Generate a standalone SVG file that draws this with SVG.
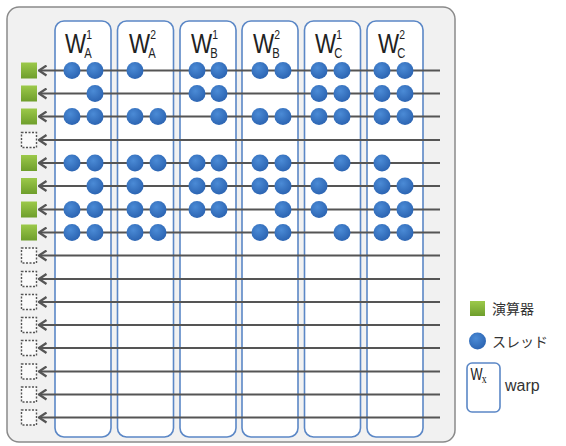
<svg xmlns="http://www.w3.org/2000/svg" width="566" height="446" viewBox="0 0 566 446">
<defs>
<linearGradient id="gGreen" x1="0" y1="0" x2="0" y2="1">
<stop offset="0" stop-color="#9cc94a"/>
<stop offset="1" stop-color="#6e9e2c"/>
</linearGradient>
<radialGradient id="gBlue" cx="0.4" cy="0.35" r="0.7">
<stop offset="0" stop-color="#4b8bd6"/>
<stop offset="1" stop-color="#2a62b0"/>
</radialGradient>
<marker id="arr" viewBox="0 0 10 12" refX="9" refY="6" markerWidth="10" markerHeight="12" markerUnits="userSpaceOnUse" orient="auto">
<path d="M1.5,1 L9,6 L1.5,11" fill="none" stroke="#555" stroke-width="2.2" stroke-linejoin="miter"/>
</marker>
</defs>
<style>
.panel{fill:#f1f1f1;stroke:#8a8a8a;stroke-width:1.5}
.warp{fill:#ffffff;stroke:#5b87c6;stroke-width:1.6}
.wire{stroke:#555555;stroke-width:2;fill:none}
.alu{fill:url(#gGreen)}
.idle{fill:#fafafa;stroke:#555;stroke-width:1.4;stroke-dasharray:2 1.5}
.th{fill:url(#gBlue)}
.W{font-family:"Liberation Sans",Arial,sans-serif;font-size:28px;fill:#222}
.sup{font-size:13px}
.sub{font-size:14px}
.lg{font-family:"Liberation Sans","Noto Sans CJK JP",sans-serif;font-size:14px;fill:#333}
</style>
<rect class="panel" x="7" y="7" width="448" height="435" rx="12"/>

<g id="warps">
<g id="warp-A1"><rect class="warp" x="55" y="21" width="56" height="416" rx="9"/>
<text class="W" transform="translate(65,52.5) scale(0.8,1)">W<tspan class="sup" dx="0" dy="-13.5">1</tspan><tspan class="sub" dx="-9.5" dy="19">A</tspan></text></g>
<g id="warp-A2"><rect class="warp" x="117.5" y="21" width="56" height="416" rx="9"/>
<text class="W" transform="translate(129,52.5) scale(0.8,1)">W<tspan class="sup" dx="0" dy="-13.5">2</tspan><tspan class="sub" dx="-9.5" dy="19">A</tspan></text></g>
<g id="warp-B1"><rect class="warp" x="180" y="21" width="56" height="416" rx="9"/>
<text class="W" transform="translate(191,52.5) scale(0.8,1)">W<tspan class="sup" dx="0" dy="-13.5">1</tspan><tspan class="sub" dx="-9.5" dy="19">B</tspan></text></g>
<g id="warp-B2"><rect class="warp" x="242" y="21" width="56" height="416" rx="9"/>
<text class="W" transform="translate(253,52.5) scale(0.8,1)">W<tspan class="sup" dx="0" dy="-13.5">2</tspan><tspan class="sub" dx="-9.5" dy="19">B</tspan></text></g>
<g id="warp-C1"><rect class="warp" x="304.5" y="21" width="56" height="416" rx="9"/>
<text class="W" transform="translate(315,52.5) scale(0.8,1)">W<tspan class="sup" dx="0" dy="-13.5">1</tspan><tspan class="sub" dx="-9.5" dy="19">C</tspan></text></g>
<g id="warp-C2"><rect class="warp" x="367" y="21" width="56" height="416" rx="9"/>
<text class="W" transform="translate(378,52.5) scale(0.8,1)">W<tspan class="sup" dx="0" dy="-13.5">2</tspan><tspan class="sub" dx="-9.5" dy="19">C</tspan></text></g>
</g>

<g id="connectors" class="wire" marker-end="url(#arr)">
<line x1="440" y1="70.5" x2="39" y2="70.5"/>
<line x1="440" y1="93.5" x2="39" y2="93.5"/>
<line x1="440" y1="116.5" x2="39" y2="116.5"/>
<line x1="440" y1="140" x2="39" y2="140"/>
<line x1="440" y1="163" x2="39" y2="163"/>
<line x1="440" y1="186" x2="39" y2="186"/>
<line x1="440" y1="209.5" x2="39" y2="209.5"/>
<line x1="440" y1="232.5" x2="39" y2="232.5"/>
<line x1="440" y1="255.5" x2="39" y2="255.5"/>
<line x1="440" y1="279" x2="39" y2="279"/>
<line x1="440" y1="302" x2="39" y2="302"/>
<line x1="440" y1="325" x2="39" y2="325"/>
<line x1="440" y1="348" x2="39" y2="348"/>
<line x1="440" y1="371.5" x2="39" y2="371.5"/>
<line x1="440" y1="394.5" x2="39" y2="394.5"/>
<line x1="440" y1="417.5" x2="39" y2="417.5"/>
</g>

<g id="units">
<rect id="alu1" class="alu" x="21" y="62.5" width="16" height="16"/>
<rect id="alu2" class="alu" x="21" y="85.5" width="16" height="16"/>
<rect id="alu3" class="alu" x="21" y="108.5" width="16" height="16"/>
<rect id="alu4" class="idle" x="21.5" y="132.5" width="15" height="15"/>
<rect id="alu5" class="alu" x="21" y="155" width="16" height="16"/>
<rect id="alu6" class="alu" x="21" y="178" width="16" height="16"/>
<rect id="alu7" class="alu" x="21" y="201.5" width="16" height="16"/>
<rect id="alu8" class="alu" x="21" y="224.5" width="16" height="16"/>
<rect id="alu9" class="idle" x="21.5" y="248" width="15" height="15"/>
<rect id="alu10" class="idle" x="21.5" y="271.5" width="15" height="15"/>
<rect id="alu11" class="idle" x="21.5" y="294.5" width="15" height="15"/>
<rect id="alu12" class="idle" x="21.5" y="317.5" width="15" height="15"/>
<rect id="alu13" class="idle" x="21.5" y="340.5" width="15" height="15"/>
<rect id="alu14" class="idle" x="21.5" y="364" width="15" height="15"/>
<rect id="alu15" class="idle" x="21.5" y="387" width="15" height="15"/>
<rect id="alu16" class="idle" x="21.5" y="410" width="15" height="15"/>
</g>

<g id="threads" class="th">
<circle cx="72" cy="70.5" r="8.5"/><circle cx="95" cy="70.5" r="8.5"/>
<circle cx="135" cy="70.5" r="8.5"/>
<circle cx="197" cy="70.5" r="8.5"/><circle cx="219" cy="70.5" r="8.5"/>
<circle cx="260" cy="70.5" r="8.5"/><circle cx="283" cy="70.5" r="8.5"/>
<circle cx="319" cy="70.5" r="8.5"/><circle cx="342" cy="70.5" r="8.5"/>
<circle cx="382" cy="70.5" r="8.5"/><circle cx="405" cy="70.5" r="8.5"/>
<circle cx="95" cy="93.5" r="8.5"/>
<circle cx="197" cy="93.5" r="8.5"/><circle cx="219" cy="93.5" r="8.5"/>
<circle cx="319" cy="93.5" r="8.5"/><circle cx="342" cy="93.5" r="8.5"/>
<circle cx="382" cy="93.5" r="8.5"/><circle cx="405" cy="93.5" r="8.5"/>
<circle cx="72" cy="116.5" r="8.5"/><circle cx="95" cy="116.5" r="8.5"/>
<circle cx="135" cy="116.5" r="8.5"/><circle cx="158" cy="116.5" r="8.5"/>
<circle cx="219" cy="116.5" r="8.5"/>
<circle cx="260" cy="116.5" r="8.5"/><circle cx="283" cy="116.5" r="8.5"/>
<circle cx="319" cy="116.5" r="8.5"/><circle cx="342" cy="116.5" r="8.5"/>
<circle cx="382" cy="116.5" r="8.5"/><circle cx="405" cy="116.5" r="8.5"/>
<circle cx="72" cy="163" r="8.5"/><circle cx="95" cy="163" r="8.5"/>
<circle cx="135" cy="163" r="8.5"/><circle cx="158" cy="163" r="8.5"/>
<circle cx="197" cy="163" r="8.5"/><circle cx="219" cy="163" r="8.5"/>
<circle cx="260" cy="163" r="8.5"/><circle cx="283" cy="163" r="8.5"/>
<circle cx="342" cy="163" r="8.5"/>
<circle cx="382" cy="163" r="8.5"/>
<circle cx="95" cy="186" r="8.5"/>
<circle cx="135" cy="186" r="8.5"/>
<circle cx="197" cy="186" r="8.5"/><circle cx="219" cy="186" r="8.5"/>
<circle cx="260" cy="186" r="8.5"/><circle cx="283" cy="186" r="8.5"/>
<circle cx="319" cy="186" r="8.5"/>
<circle cx="382" cy="186" r="8.5"/><circle cx="405" cy="186" r="8.5"/>
<circle cx="72" cy="209.5" r="8.5"/><circle cx="95" cy="209.5" r="8.5"/>
<circle cx="135" cy="209.5" r="8.5"/><circle cx="158" cy="209.5" r="8.5"/>
<circle cx="197" cy="209.5" r="8.5"/><circle cx="219" cy="209.5" r="8.5"/>
<circle cx="283" cy="209.5" r="8.5"/>
<circle cx="319" cy="209.5" r="8.5"/>
<circle cx="382" cy="209.5" r="8.5"/><circle cx="405" cy="209.5" r="8.5"/>
<circle cx="72" cy="232.5" r="8.5"/><circle cx="95" cy="232.5" r="8.5"/>
<circle cx="135" cy="232.5" r="8.5"/><circle cx="158" cy="232.5" r="8.5"/>
<circle cx="260" cy="232.5" r="8.5"/><circle cx="283" cy="232.5" r="8.5"/>
<circle cx="342" cy="232.5" r="8.5"/>
<circle cx="382" cy="232.5" r="8.5"/><circle cx="405" cy="232.5" r="8.5"/>
</g>

<g id="legend">
<g id="legend-alu"><rect class="alu" x="470" y="301" width="15" height="15"/><text class="lg" x="492" y="314">演算器</text></g>
<g id="legend-thread"><circle class="th" cx="477.5" cy="341" r="8.5"/><text class="lg" x="492" y="347">スレッド</text></g>
<g id="legend-warp"><rect class="warp" x="467" y="363" width="33" height="49" rx="5"/>
<text class="W" transform="translate(470.5,380) scale(0.75,1)" style="font-size:17px">W<tspan dx="-1" dy="3" style="font-family:'Liberation Serif',serif;font-size:13px">x</tspan></text>
<text class="lg" x="505" y="391" style="font-size:16px">warp</text></g>
</g>
</svg>
